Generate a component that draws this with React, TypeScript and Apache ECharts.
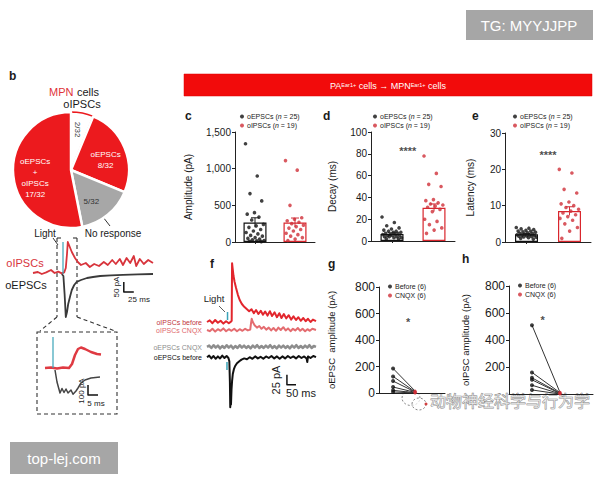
import React, { useEffect, useRef } from 'react';
import * as echarts from 'echarts';

const FONT = '"Liberation Sans", Arial, Helvetica, sans-serif';
const RED = '#ec1a1e';
const DOT_RED = '#cf2f38';
const DARK = '#1a1a1a';

// ---------- Panel b: pie ----------
const pieNames = ['oIPSCs', 'oEPSCs', 'No response', 'oEPSCs + oIPSCs'];
const pieCounts = [2, 8, 5, 17];
const pieTotal = 32;

// ---------- Panel b: example traces [ms, pA] ----------
const bIpscTrace = [[0,5],[12,10],[22,0],[33,8],[45,20],[54,5],[63,12],[72,3],[78,8],[82,30],[85,100],[87,160],[91,140],[97,110],[105,80],[112,60],[120,45],[132,55],[142,35],[153,50],[165,40],[177,60],[187,45],[198,70],[207,50],[217,75],[225,45],[234,80],[243,55],[252,90],[258,40],[267,75],[277,50],[288,70],[300,55]];
const bEpscTrace = [[72,0],[76,-10],[79,-100],[82,-215],[85,-190],[88,-150],[93,-110],[97,-80],[103,-55],[109,-40],[120,-30],[135,-20],[150,-15],[168,-10],[195,-7],[225,-4],[262,-2],[300,0]];
const bLightMs = 75;
const insetIpscTrace = [[0,0],[3,5],[6,-5],[9,5],[12,0],[13.5,40],[15,130],[16.5,190],[18,205],[20,190],[23,160],[26,140],[28,135]];
const insetEpscTrace = [[5,-20],[6,-140],[7.5,-250],[8.5,-205],[9.5,-245],[10.5,-210],[11.5,-250],[13,-220],[14,-262],[15.5,-230],[16.5,-200],[18,-150],[20,-120],[23,-100],[27.5,-90]];
const insetLightMs = 4;

// ---------- Panels c-e (two groups) ----------
const groups = ['oEPSCs', 'oIPSCs'];
const ampEPSC = [1340, 900, 660, 560, 400, 380, 340, 300, 240, 220, 200, 170, 150, 130, 110, 90, 80, 60, 50, 40, 30, 20, 15, 10, 5];
const ampIPSC = [1110, 980, 500, 330, 310, 290, 270, 250, 230, 210, 190, 170, 150, 120, 100, 80, 60, 40, 20];
const ampMean = [265, 265];
const ampSem = [65, 62];
const decayEPSC = [22, 17, 14, 12, 11, 10, 9, 9, 8, 8, 7, 7, 6, 6, 6, 5, 5, 5, 4, 4, 4, 3, 3, 2, 2];
const decayIPSC = [78, 62, 52, 50, 38, 37, 35, 34, 33, 32, 31, 29, 27, 20, 18, 15, 12, 10, 7];
const decayMean = [6.5, 30.5];
const decaySem = [1, 3.5];
const latEPSC = [4, 3.8, 3.6, 3.4, 3.2, 3, 3, 2.8, 2.7, 2.5, 2.4, 2.3, 2.2, 2, 2, 1.9, 1.8, 1.7, 1.6, 1.5, 1.4, 1.3, 1.2, 1, 0.8];
const latIPSC = [20, 19, 14.5, 13.5, 11, 10.5, 10, 9.5, 9, 8.5, 8, 7.5, 7, 6.5, 6, 5, 4, 3, 1];
const latMean = [2.1, 8.5];
const latSem = [0.2, 1.2];

// ---------- Panel f traces [ms, pA] relative to each trace's baseline ----------
const fIpscBefore = [[0,0],[15,4],[30,-3],[45,5],[60,-2],[75,3],[90,-4],[105,2],[120,-3],[132,1],[136,3],[138,147],[141,135],[146,115],[152,100],[160,85],[170,68],[180,55],[192,45],[205,38],[220,32],[232,27],[245,32],[258,22],[270,30],[283,20],[296,28],[308,18],[320,26],[333,16],[346,27],[358,15],[372,24],[385,12],[398,22],[410,10],[423,20],[436,9],[450,17],[463,6],[476,14],[490,5],[503,12],[516,3],[530,10],[543,2],[556,8],[570,0],[583,6],[600,2]];
const fIpscCnqx = [[0,0],[15,-3],[30,3],[45,-4],[60,2],[75,-2],[90,4],[105,-3],[120,2],[135,-2],[150,3],[165,-3],[180,2],[195,-2],[210,3],[225,-1],[238,1],[242,16],[246,28],[252,20],[262,12],[275,6],[288,10],[300,3],[313,8],[326,1],[340,6],[353,-1],[366,5],[380,-2],[393,6],[406,0],[420,7],[433,-1],[446,4],[460,-3],[473,3],[486,-1],[500,5],[513,-2],[526,3],[540,-3],[553,2],[566,-2],[580,3],[600,0]];
const fEpscCnqx = [[0,0],[12,3],[24,-3],[36,4],[48,-2],[60,3],[72,-4],[84,2],[96,-3],[108,4],[120,-2],[132,3],[144,-4],[156,2],[168,-3],[180,4],[192,-2],[204,3],[216,-3],[228,2],[240,-4],[252,3],[264,-2],[276,4],[288,-3],[300,2],[312,-3],[324,3],[336,-2],[348,4],[360,-3],[372,2],[384,-4],[396,3],[408,-2],[420,3],[432,-3],[444,2],[456,-4],[468,3],[480,-2],[492,4],[504,-3],[516,2],[528,-3],[540,3],[552,-2],[564,4],[576,-3],[588,2],[600,0]];
const fEpscBefore = [[0,0],[12,4],[24,-3],[36,3],[48,-4],[60,2],[72,-3],[84,4],[96,-2],[108,3],[118,-2],[123,-10],[126,-60],[128,-125],[130,-100],[132,-118],[135,-80],[138,-60],[142,-42],[148,-30],[155,-22],[165,-15],[178,-10],[190,-6],[205,-3],[220,-5],[235,0],[250,-4],[265,2],[280,-3],[295,1],[310,-4],[325,2],[340,-2],[355,3],[370,-3],[385,2],[400,-4],[415,2],[430,-3],[445,3],[460,-2],[475,2],[490,-3],[505,3],[520,-2],[535,2],[548,-3],[552,-12],[556,2],[570,-2],[585,3],[600,0]];
const fLightMs = 113;

// ---------- Panels g, h ----------
const pairCats = ['Before', 'CNQX'];
const gBefore = [185, 125, 90, 45, 20, 8];
const gCnqx = [15, 10, 8, 5, 2, 0];
const hBefore = [510, 160, 120, 105, 65, 30];
const hCnqx = [12, 10, 6, 4, 2, 0];

const jitter = (vals: number[], center: number, spread: number) =>
  vals.map((v, i) => [center + (((i * 0.618034) % 1) - 0.5) * spread, v]);

const hiddenAxis = (gridIndex: number, min: number, max: number) => ({
  type: 'value', gridIndex, min, max, show: false,
});

const yStyled = (gridIndex: number, min: number, max: number, interval: number, fs: number, name: string, nameGap: number, nameFs: number, fmt?: (v: number) => string, showMin = true) => ({
  type: 'value', gridIndex, min, max, interval,
  name, nameLocation: 'middle', nameGap,
  nameTextStyle: { fontSize: nameFs, color: DARK, fontFamily: FONT },
  axisLine: { show: true, lineStyle: { color: '#222', width: 1 } },
  axisTick: { show: true, length: 3, lineStyle: { color: '#222' } },
  axisLabel: { fontSize: fs, color: DARK, margin: 4, fontFamily: FONT, formatter: fmt, showMinLabel: showMin },
  splitLine: { show: false },
});

const catX = (gridIndex: number) => ({
  type: 'category', gridIndex, data: groups,
  axisLine: { show: true, lineStyle: { color: '#222', width: 1 } },
  axisTick: { show: true, alignWithLabel: true, length: 2, lineStyle: { color: '#222' } },
  axisLabel: { show: false },
});

const barPanel = (cx: number, vx: number, y: number, e: number[], i: number[], mean: number[], sem: number[]) => {
  const colors = [DARK, DOT_RED];
  return [
    {
      type: 'bar', xAxisIndex: cx, yAxisIndex: y, barWidth: 23, z: 1, silent: true,
      data: mean.map((m, k) => ({ value: m, itemStyle: { color: '#fff', borderColor: k ? '#d9262d' : '#111', borderWidth: 1.2 } })),
    },
    { type: 'scatter', name: groups[0], xAxisIndex: vx, yAxisIndex: y, symbolSize: 3.6, z: 3, itemStyle: { color: '#111' }, data: jitter(e, 1, 0.95) },
    { type: 'scatter', name: groups[1], xAxisIndex: vx, yAxisIndex: y, symbolSize: 3.6, z: 3, itemStyle: { color: DOT_RED }, data: jitter(i, 3, 0.95) },
    {
      type: 'custom', xAxisIndex: cx, yAxisIndex: y, z: 4, silent: true,
      data: mean.map((m, k) => [k, m, sem[k]]),
      renderItem: (_p: any, api: any) => {
        const k = api.value(0), m = api.value(1), s = api.value(2);
        const top = api.coord([k, m + s]);
        const bot = api.coord([k, m - s]);
        const c = colors[k];
        return {
          type: 'group', children: [
            { type: 'line', shape: { x1: top[0], y1: top[1], x2: bot[0], y2: bot[1] }, style: { stroke: c, lineWidth: 1 } },
            { type: 'line', shape: { x1: top[0] - 4, y1: top[1], x2: top[0] + 4, y2: top[1] }, style: { stroke: c, lineWidth: 1 } },
          ],
        };
      },
    },
  ];
};

const star = (vx: number, y: number, x: number, v: number, text: string) => ({
  type: 'scatter', xAxisIndex: vx, yAxisIndex: y, symbolSize: 1, silent: true, z: 6,
  itemStyle: { color: 'rgba(0,0,0,0)' },
  data: [[x, v]],
  label: { show: true, position: 'inside', formatter: text, fontSize: 11, fontWeight: 'bold', color: DARK, fontFamily: FONT },
});

const pairPanel = (xi: number, yi: number, before: number[], cnqx: number[], bx: number) => {
  const lines = before.map((b, k) => ({
    type: 'line', xAxisIndex: xi, yAxisIndex: yi, symbol: 'none', silent: true, z: 2,
    lineStyle: { color: '#333', width: 1 },
    data: [[bx, b], [bx + 1, cnqx[k]]],
  }));
  return [
    ...lines,
    { type: 'scatter', name: pairCats[0], xAxisIndex: xi, yAxisIndex: yi, symbolSize: 4, z: 3, itemStyle: { color: '#111' }, data: before.map((b) => [bx, b]) },
    { type: 'scatter', name: pairCats[1], xAxisIndex: xi, yAxisIndex: yi, symbolSize: 3, z: 3, itemStyle: { color: DOT_RED }, data: cnqx.map((c) => [bx + 1, c]) },
  ];
};

const shift = (tr: number[][], off: number) => tr.map(([x, y]) => [x, y + off]);
const trace = (xi: number, yi: number, data: number[][], color: string, width: number, z = 2) => ({
  type: 'line', xAxisIndex: xi, yAxisIndex: yi, data, symbol: 'none', silent: true, z,
  lineStyle: { color, width, join: 'round' },
});

const legend = (left: number, top: number, names: string[], fmt: (n: string) => string) => ({
  left, top, orient: 'vertical', itemGap: 2, itemWidth: 4, itemHeight: 4, icon: 'circle', padding: 0,
  selectedMode: false, data: names, formatter: fmt,
  textStyle: { fontSize: 7, color: '#222', fontFamily: FONT, padding: [0, 0, 0, -2], rich: { i: { fontSize: 7, fontStyle: 'italic', color: '#222', fontFamily: FONT } } },
});

const nFmt = (n: string) => (n === groups[0] ? `${n} ({i|n} = 25)` : `${n} ({i|n} = 19)`);
const pairFmt = (n: string) => `${n} (6)`;

const txt = (x: number, y: number, text: string, fs: number, extra: any = {}) => ({
  type: 'text', x, y, silent: true,
  style: { text, fontSize: fs, fill: DARK, fontFamily: FONT, ...extra },
});
const vtxt = (x: number, y: number, text: string, fs: number) => ({
  type: 'text', x, y, rotation: Math.PI / 2, silent: true,
  style: { text, fontSize: fs, fill: DARK, fontFamily: FONT, align: 'center', verticalAlign: 'middle' },
});
const ln = (x1: number, y1: number, x2: number, y2: number, stroke = '#222', w = 1, dash?: number[]) => ({
  type: 'line', silent: true, shape: { x1, y1, x2, y2 }, style: { stroke, lineWidth: w, lineDash: dash },
});

// label nudges (the first label is rotated, so its shift is in its own frame)
const pieLabelShift = [[-9, 0], [5, 2], [0, 7], [-4, 5]];

export default function App() {
  const ref = useRef<HTMLDivElement>(null);
  useEffect(() => {
    if (!ref.current) return;
    const chart = echarts.init(ref.current, undefined, { renderer: 'svg' });
    const fOff = [0, -20, -62, -88];
    const option: any = {
      animation: false,
      backgroundColor: '#fff',
      textStyle: { fontFamily: FONT },
      grid: [
        { left: 33, top: 236, width: 120, height: 84 },
        { left: 45, top: 335, width: 58, height: 65 },
        { left: 235, top: 132, width: 80, height: 110 },
        { left: 371, top: 132, width: 84, height: 109 },
        { left: 505, top: 133, width: 86, height: 109 },
        { left: 207, top: 254, width: 109, height: 160 },
        { left: 379, top: 287, width: 66, height: 106 },
        { left: 509, top: 286, width: 84, height: 108 },
      ],
      xAxis: [
        hiddenAxis(0, 0, 300),
        hiddenAxis(1, 0, 29),
        catX(2),
        hiddenAxis(2, 0, 4),
        catX(3),
        hiddenAxis(3, 0, 4),
        catX(4),
        hiddenAxis(4, 0, 4),
        hiddenAxis(5, 0, 600),
        { type: 'value', gridIndex: 6, min: 0, max: 3, axisLine: { show: true, lineStyle: { color: '#222' } }, axisTick: { show: false }, axisLabel: { show: false }, splitLine: { show: false } },
        { type: 'value', gridIndex: 7, min: 0, max: 3, axisLine: { show: true, lineStyle: { color: '#222' } }, axisTick: { show: false }, axisLabel: { show: false }, splitLine: { show: false } },
      ],
      yAxis: [
        hiddenAxis(0, -230, 190),
        hiddenAxis(1, -320, 330),
        yStyled(2, 0, 1500, 500, 10, 'Amplitude (pA)', 42, 10, (v: number) => v.toLocaleString('en-US')),
        yStyled(3, 0, 100, 20, 10, 'Decay (ms)', 34, 10),
        yStyled(4, 0, 30, 10, 10, 'Latency (ms)', 30, 10),
        hiddenAxis(5, -230, 170),
        yStyled(6, 0, 800, 200, 12, 'oEPSC  amplitude (pA)', 43, 9.5),
        yStyled(7, 0, 800, 200, 12, 'oIPSC amplitude (pA)', 39, 9.5, undefined, false),
      ],
      legend: [
        legend(240, 113, groups, nFmt),
        legend(373, 113, groups, nFmt),
        legend(513, 113, groups, nFmt),
        legend(388, 283, pairCats, pairFmt),
        legend(518, 282, pairCats, pairFmt),
      ],
      series: [
        {
          type: 'pie', center: [71, 170], radius: 58, startAngle: 90, clockwise: true, silent: true,
          labelLine: { show: false },
          labelLayout: (p: any) => ({ dx: pieLabelShift[p.dataIndex][0], dy: pieLabelShift[p.dataIndex][1] }),
          label: {
            show: true, position: 'inside', fontSize: 8, lineHeight: 11, color: '#fff', fontFamily: FONT,
            formatter: (p: any) => {
              const f = `${p.value}/${pieTotal}`;
              if (p.dataIndex === 1) return `oEPSCs\n${f}`;
              if (p.dataIndex === 3) return `oEPSCs\n+\noIPSCs\n${f}`;
              return f;
            },
          },
          data: pieCounts.map((c, k) => ({
            name: pieNames[k], value: c,
            itemStyle: k === 0 ? { color: '#fff', borderColor: RED, borderWidth: 1.5 }
              : k === 2 ? { color: '#a7a7a7', borderColor: '#fff', borderWidth: 2.5 }
              : { color: RED, borderColor: '#fff', borderWidth: 2.5 },
            label: k === 0 ? { color: '#333', rotate: -90 } : k === 2 ? { color: '#333' } : {},
          })),
        },
        trace(0, 0, bEpscTrace, '#3a3a3a', 1.8, 2),
        trace(0, 0, bIpscTrace, '#d8343c', 1.8, 3),
        trace(0, 0, [[bLightMs, 0], [bLightMs, 160]], '#3aa3b8', 1.2, 4),
        trace(0, 0, [[227, -40], [227, -90], [252, -90]], '#111', 1.5, 4),
        trace(1, 1, insetEpscTrace, '#444', 1.5, 2),
        trace(1, 1, insetIpscTrace, '#df3a42', 2.5, 3),
        trace(1, 1, [[insetLightMs, 0], [insetLightMs, 310]], '#3aa3b8', 1.2, 4),
        trace(1, 1, [[21.5, -170], [21.5, -270], [26.5, -270]], '#111', 1.5, 4),
        ...barPanel(2, 3, 2, ampEPSC, ampIPSC, ampMean, ampSem),
        ...barPanel(4, 5, 3, decayEPSC, decayIPSC, decayMean, decaySem),
        star(5, 3, 1.75, 83, '****'),
        ...barPanel(6, 7, 4, latEPSC, latIPSC, latMean, latSem),
        star(7, 4, 2, 24, '****'),
        trace(8, 5, shift(fIpscCnqx, fOff[1]), '#e46c70', 2, 2),
        trace(8, 5, shift(fIpscBefore, fOff[0]), '#e2262d', 2, 3),
        trace(8, 5, shift(fEpscCnqx, fOff[2]), '#8d8d8d', 2.5, 2),
        trace(8, 5, shift(fEpscBefore, fOff[3]), '#111', 2, 3),
        trace(8, 5, [[fLightMs, 25], [fLightMs, 5]], '#3aa3b8', 1.5, 4),
        trace(8, 5, [[fLightMs - 3, -100], [fLightMs - 3, -120]], '#3aa3b8', 1.5, 4),
        trace(8, 5, [[440, -132], [440, -157], [490, -157]], '#111', 1.5, 4),
        ...pairPanel(9, 6, gBefore, gCnqx, 0.64),
        star(9, 6, 1.32, 536, '*'),
        ...pairPanel(10, 7, hBefore, hCnqx, 0.82),
        star(10, 7, 1.2, 548, '*'),
      ],
      graphic: [
        { type: 'rect', silent: true, shape: { x: 466, y: 10, width: 127, height: 30 }, style: { fill: '#a6a6a6' } },
        txt(529, 25, 'TG: MYYJJPP', 15, { fill: '#fff', align: 'center', verticalAlign: 'middle' }),
        { type: 'rect', silent: true, shape: { x: 10, y: 442, width: 108, height: 32 }, style: { fill: '#a6a6a6' } },
        txt(64, 458, 'top-lej.com', 15, { fill: '#fff', align: 'center', verticalAlign: 'middle' }),
        { type: 'rect', silent: true, shape: { x: 184, y: 74, width: 408, height: 22 }, style: { fill: '#f20b0b', stroke: '#d00', lineWidth: 0.5 } },
        {
          type: 'text', silent: true, x: 388, y: 86,
          style: {
            text: '{a|PA}{s|Ear1+}{a| cells → MPN}{s|Ear1+}{a| cells}',
            align: 'center', verticalAlign: 'middle',
            rich: {
              a: { fontSize: 9, fill: '#fff', fontFamily: FONT },
              s: { fontSize: 5.5, fill: '#fff', fontFamily: FONT, verticalAlign: 'top' },
            },
          },
        },
        txt(9, 70, 'b', 12, { fontWeight: 'bold' }),
        txt(185, 110, 'c', 12, { fontWeight: 'bold' }),
        txt(323, 110, 'd', 12, { fontWeight: 'bold' }),
        txt(472, 110, 'e', 12, { fontWeight: 'bold' }),
        txt(210, 258, 'f', 12, { fontWeight: 'bold' }),
        txt(328, 258, 'g', 12, { fontWeight: 'bold' }),
        txt(462, 253, 'h', 12, { fontWeight: 'bold' }),
        {
          type: 'text', silent: true, x: 74, y: 92,
          style: { text: '{r|MPN} {k|cells}', align: 'center', verticalAlign: 'middle', rich: { r: { fontSize: 11, fill: '#e0333a', fontFamily: FONT }, k: { fontSize: 11, fill: DARK, fontFamily: FONT } } },
        },
        txt(82, 104, 'oIPSCs', 11, { align: 'center', verticalAlign: 'middle' }),
        ln(96, 208, 110, 226, '#333', 1),
        txt(113, 233, 'No response', 10, { align: 'center', verticalAlign: 'middle' }),
        txt(45, 233, 'Light', 10, { align: 'center', verticalAlign: 'middle' }),
        ln(53, 238, 58, 245, '#333', 1),
        txt(25, 263, 'oIPSCs', 11, { align: 'center', verticalAlign: 'middle', fill: '#d8343c' }),
        txt(26, 285, 'oEPSCs', 11, { align: 'center', verticalAlign: 'middle' }),
        vtxt(116, 287, '50 pA', 8),
        txt(139, 299, '25 ms', 8, { align: 'center', verticalAlign: 'middle' }),
        ln(57, 238, 57, 317, '#333', 1.1, [4, 3]),
        ln(77, 238, 77, 317, '#333', 1.1, [4, 3]),
        ln(57, 238, 61, 238, '#333', 1.1),
        ln(73, 238, 77, 238, '#333', 1.1),
        ln(57, 317, 40, 331, '#333', 1.1, [4, 3]),
        ln(77, 317, 115, 331, '#333', 1.1, [4, 3]),
        { type: 'rect', silent: true, shape: { x: 37, y: 332, width: 80, height: 82 }, style: { fill: 'none', stroke: '#333', lineWidth: 1.1, lineDash: [4, 3] } },
        vtxt(81, 391, '100 pA', 8),
        txt(96, 403, '5 ms', 8, { align: 'center', verticalAlign: 'middle' }),
        txt(202, 322, 'oIPSCs before', 7, { align: 'right', verticalAlign: 'middle', fill: '#c0343b' }),
        txt(202, 330, 'oIPSCs CNQX', 7, { align: 'right', verticalAlign: 'middle', fill: '#e0676c' }),
        txt(202, 347, 'oEPSCs CNQX', 7, { align: 'right', verticalAlign: 'middle', fill: '#8d8d8d' }),
        txt(202, 357, 'oEPSCs before', 7, { align: 'right', verticalAlign: 'middle', fill: '#111' }),
        txt(214, 298, 'Light', 9.5, { align: 'center', verticalAlign: 'middle' }),
        ln(219, 306, 225, 312, '#333', 0.8),
        vtxt(276, 380, '25 pA', 11),
        txt(301, 393, '50 ms', 11, { align: 'center', verticalAlign: 'middle' }),
        { type: 'ellipse', silent: true, shape: { cx: 411, cy: 398, rx: 9, ry: 7.5 }, style: { fill: 'rgba(255,255,255,0.7)', stroke: '#888', lineWidth: 1, lineDash: [2, 2] } },
        { type: 'ellipse', silent: true, shape: { cx: 419, cy: 404, rx: 7, ry: 6 }, style: { fill: 'rgba(255,255,255,0.7)', stroke: '#888', lineWidth: 1, lineDash: [2, 2] } },
        { type: 'circle', silent: true, shape: { cx: 426, cy: 404, r: 1.5 }, style: { fill: '#d04040' } },
        txt(430, 400, '动物神经科学与行为学', 16, { verticalAlign: 'middle', fill: 'rgba(255,255,255,0.55)', stroke: '#7a7a7a', lineWidth: 0.7, fontFamily: '"Noto Sans CJK SC", sans-serif' }),
      ],
    };
    chart.setOption(option);
    return () => chart.dispose();
  }, []);
  return <div ref={ref} style={{ position: 'fixed', left: 0, top: 0, width: 600, height: 480, background: '#fff' }} />;
}
